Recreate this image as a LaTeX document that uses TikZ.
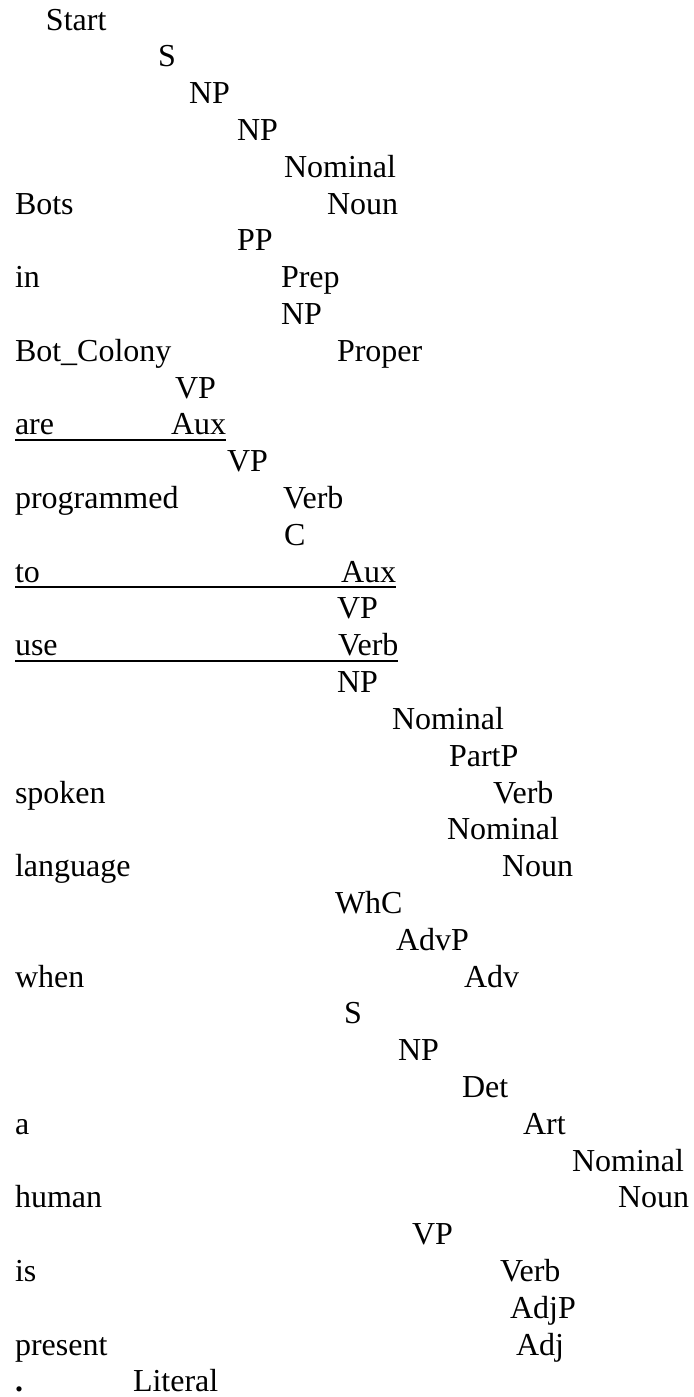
\documentclass[tikz,border=0pt]{standalone}
\usepackage{fontspec}
\setmainfont{Liberation Serif}
\begin{document}
\begin{tikzpicture}[x=0.5pt,y=-0.5pt,
  lbl/.style={anchor=base west,inner sep=0pt,outer sep=0pt,font=\fontsize{16pt}{18pt}\selectfont},
  uline/.style={line width=1.1pt}]
\useasboundingbox (0,0) rectangle (693,1397);
% line 1-5
\node[lbl] (start) at (46,{30+0*36.81}) {Start};
\node[lbl] (s1) at (158,{30+1*36.81}) {S};
\node[lbl] (np1) at (189,{30+2*36.81}) {NP};
\node[lbl] (np2) at (237,{30+3*36.81}) {NP};
\node[lbl] (nom1) at (284,{30+4*36.81}) {Nominal};
% line 6
\node[lbl] (bots) at (15,{30+5*36.81}) {Bots};
\node[lbl] (noun1) at (327,{30+5*36.81}) {Noun};
\node[lbl] (pp1) at (237,{30+6*36.81}) {PP};
\node[lbl] (in) at (15,{30+7*36.81}) {in};
\node[lbl] (prep1) at (281,{30+7*36.81}) {Prep};
\node[lbl] (np3) at (281,{30+8*36.81}) {NP};
\node[lbl] (botcol) at (15,{30+9*36.81}) {Bot\_Colony};
\node[lbl] (proper1) at (337,{30+9*36.81}) {Proper};
\node[lbl] (vp1) at (175,{30+10*36.81}) {VP};
\node[lbl] (are) at (15,{30+11*36.81}) {are};
\node[lbl] (aux1) at (171,{30+11*36.81}) {Aux};
\node[lbl] (vp2) at (227,{30+12*36.81}) {VP};
\node[lbl] (programmed) at (15,{30+13*36.81}) {programmed};
\node[lbl] (verb1) at (283,{30+13*36.81}) {Verb};
\node[lbl] (c1) at (284,{30+14*36.81}) {C};
\node[lbl] (to) at (15,{30+15*36.81}) {to};
\node[lbl] (aux2) at (341,{30+15*36.81}) {Aux};
\node[lbl] (vp3) at (337,{30+16*36.81}) {VP};
\node[lbl] (use) at (15,{30+17*36.81}) {use};
\node[lbl] (verb2) at (338,{30+17*36.81}) {Verb};
\node[lbl] (np4) at (337,{30+18*36.81}) {NP};
\node[lbl] (nom2) at (392,{30+19*36.81}) {Nominal};
\node[lbl] (partp) at (449,{30+20*36.81}) {PartP};
\node[lbl] (spoken) at (15,{30+21*36.81}) {spoken};
\node[lbl] (verb3) at (493,{30+21*36.81}) {Verb};
\node[lbl] (nom3) at (447,{30+22*36.81}) {Nominal};
\node[lbl] (language) at (15,{30+23*36.81}) {language};
\node[lbl] (noun2) at (502,{30+23*36.81}) {Noun};
\node[lbl] (whc) at (335,{30+24*36.81}) {WhC};
\node[lbl] (advp) at (396,{30+25*36.81}) {AdvP};
\node[lbl] (when) at (15,{30+26*36.81}) {when};
\node[lbl] (adv) at (464,{30+26*36.81}) {Adv};
\node[lbl] (s2) at (344,{30+27*36.81}) {S};
\node[lbl] (np5) at (398,{30+28*36.81}) {NP};
\node[lbl] (det) at (462,{30+29*36.81}) {Det};
\node[lbl] (a) at (15,{30+30*36.81}) {a};
\node[lbl] (art) at (523,{30+30*36.81}) {Art};
\node[lbl] (nom4) at (572,{30+31*36.81}) {Nominal};
\node[lbl] (human) at (15,{30+32*36.81}) {human};
\node[lbl] (noun3) at (618,{30+32*36.81}) {Noun};
\node[lbl] (vp4) at (412,{30+33*36.81}) {VP};
\node[lbl] (is) at (15,{30+34*36.81}) {is};
\node[lbl] (verb4) at (500,{30+34*36.81}) {Verb};
\node[lbl] (adjp) at (510,{30+35*36.81}) {AdjP};
\node[lbl] (present) at (15,{30+36*36.81}) {present};
\node[lbl] (adj) at (516,{30+36*36.81}) {Adj};
\node[lbl] (dot) at (15,{30+37*36.81}) {\textbf{.}};
\node[lbl] (literal) at (133,{30+37*36.81}) {Literal};
% underlines
\draw[uline] ([yshift=-2.5pt]are.base west) -- ([yshift=-2.5pt]aux1.base east);
\draw[uline] ([yshift=-2.5pt]to.base west) -- ([yshift=-2.5pt]aux2.base east);
\draw[uline] ([yshift=-2.5pt]use.base west) -- ([yshift=-2.5pt]verb2.base east);
\end{tikzpicture}
\end{document}
